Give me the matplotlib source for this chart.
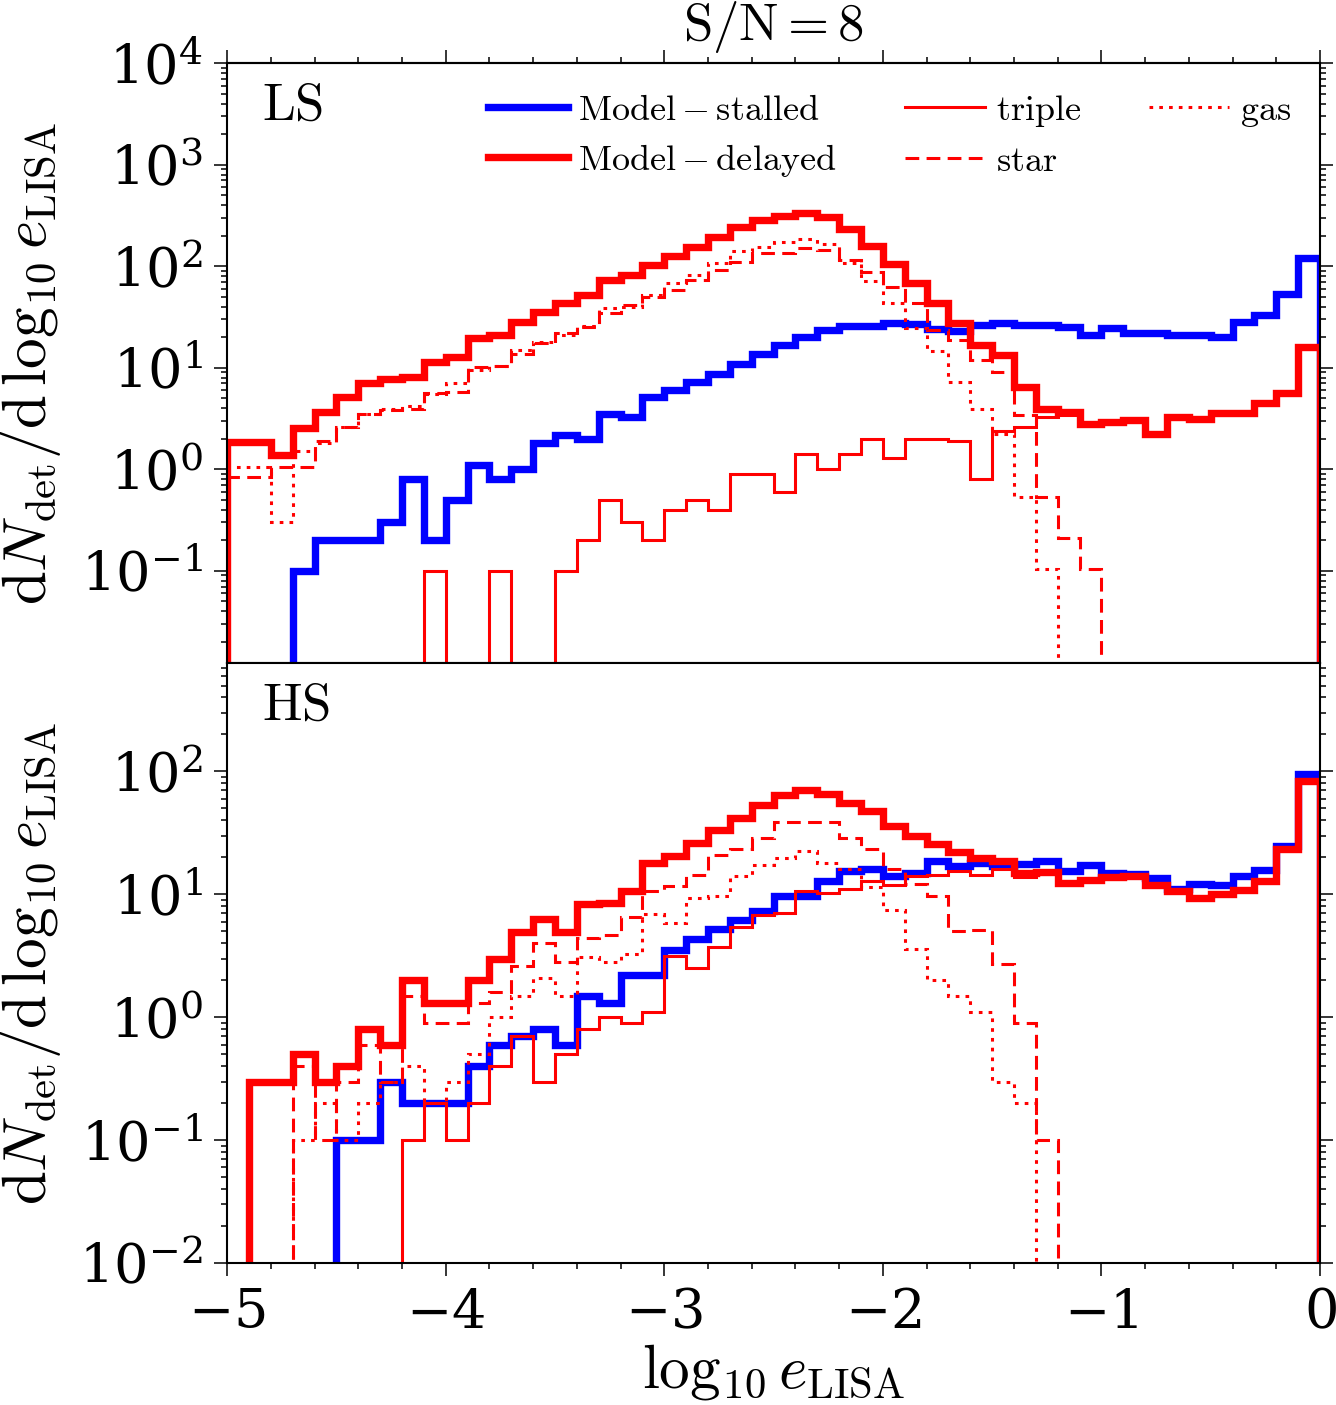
import numpy as np
import matplotlib.pyplot as plt
from matplotlib.lines import Line2D
from matplotlib.ticker import MultipleLocator, LogLocator, NullFormatter

plt.rcParams['mathtext.fontset'] = 'cm'
plt.rcParams['axes.formatter.use_mathtext'] = True
plt.rcParams['font.family'] = ['DejaVu Serif']

# bin edges in log10 e_LISA
edges = np.linspace(-5, 0, 51)

# LS panel (top)
ls_stalled = [0, 0, 0, 0.1, 0.2, 0.2, 0.2, 0.3, 0.8, 0.2,
              0.5, 1.1, 0.8, 1.0, 1.8, 2.2, 2.0, 3.5, 3.3, 5.2,
              6.0, 7.3, 8.7, 11, 13.6, 16.7, 20.2, 23.5, 25.7, 25.7,
              27.3, 27, 23.9, 23, 26.3, 27.7, 26.3, 26.3, 25.4, 21,
              24.8, 21.8, 22, 21, 21, 19.9, 28.4, 33, 53, 120]
ls_delayed = [1.86, 1.86, 1.37, 2.55, 3.67, 5.16, 7.0, 7.7, 8.1, 11.3,
              12.8, 19.5, 21, 28.4, 35.6, 43, 52, 73, 82, 103,
              126, 156, 193, 245, 286, 313, 333, 308, 231, 158,
              105, 69, 43.7, 27.7, 16.7, 13.3, 6.4, 3.9, 3.67, 2.82,
              2.93, 3.04, 2.25, 3.24, 3.15, 3.62, 3.55, 4.5, 5.7, 16.1]
ls_triple = [0, 0, 0, 0, 0, 0, 0, 0, 0, 0.1,
             0, 0, 0.1, 0, 0, 0.1, 0.2, 0.5, 0.3, 0.2,
             0.4, 0.5, 0.4, 0.9, 0.9, 0.6, 1.4, 1.0, 1.4, 2.0,
             1.3, 2.0, 2.0, 1.9, 0.8, 2.4, 2.6, 3.3, 3.45, 2.7,
             2.93, 3.04, 2.25, 3.24, 3.15, 3.62, 3.55, 4.5, 5.7, 16.1]
ls_star = [0.84, 0.84, 1.05, 1.05, 1.9, 2.6, 3.5, 3.8, 3.9, 5.6,
           5.8, 10.2, 10.5, 13.8, 17.5, 21.8, 25.4, 34.3, 41.6, 50,
           58, 73, 92, 110, 134, 136, 150, 145, 115, 88,
           62, 43, 23.5, 18.7, 12, 9.1, 3.4, 0.53, 0.21, 0.105,
           0, 0, 0, 0, 0, 0, 0, 0, 0, 0]
ls_gas = [1.05, 1.05, 0.3, 1.5, 1.8, 2.6, 3.5, 3.9, 4.2, 5.5,
          7.0, 9.5, 10.4, 14.9, 18, 21, 26, 39, 40, 52,
          68, 82, 107, 140, 156, 175, 184, 166, 107, 71,
          43, 24.8, 14.7, 7.3, 3.9, 2.25, 0.53, 0.105, 0, 0,
          0, 0, 0, 0, 0, 0, 0, 0, 0, 0]

# HS panel (bottom)
hs_stalled = [0, 0, 0, 0, 0, 0.1, 0.1, 0.3, 0.2, 0.2,
              0.2, 0.4, 0.6, 0.7, 0.8, 0.6, 1.5, 1.3, 2.2, 2.2,
              3.5, 4.3, 5.2, 6.15, 7.3, 9.7, 9.7, 12.8, 15.4, 16.2,
              14.1, 15.0, 18.6, 17, 18, 17, 17.5, 18.6, 15.4, 17.3,
              15.0, 14.6, 13.5, 11.0, 12.2, 12.0, 14.1, 15.9, 24.6, 95]
hs_delayed = [0, 0.3, 0.3, 0.5, 0.3, 0.4, 0.8, 0.6, 2.0, 1.3,
              1.3, 2.0, 3.0, 4.9, 6.3, 4.9, 8.3, 8.5, 10.6, 18.0,
              20.4, 26.2, 33.6, 41.8, 53, 64.7, 71, 65, 55, 47.3,
              35.8, 29.7, 25.7, 22.1, 19.8, 18.6, 15.0, 15.3, 12.4, 13.2,
              13.8, 14.0, 12.0, 10.6, 9.3, 10.1, 10.8, 12.8, 23.2, 83]
hs_triple = [0, 0, 0, 0, 0, 0, 0, 0, 0.1, 0.2,
             0.1, 0.2, 0.4, 0.7, 0.3, 0.5, 0.8, 1.0, 0.9, 1.1,
             3.15, 2.5, 3.7, 5.4, 6.8, 7.1, 10.6, 10.3, 11.0, 12.8,
             12.0, 14.1, 14.5, 15.6, 14.5, 16, 13.9, 15.2, 12.4, 13.2,
             13.8, 14.0, 12.0, 10.6, 9.3, 10.1, 10.8, 12.8, 23.2, 83]
hs_star = [0, 0, 0, 0.4, 0.1, 0.3, 0.6, 0.3, 1.5, 0.9,
           0.9, 1.3, 1.6, 2.6, 4.0, 2.8, 4.4, 4.7, 6.5, 10.6,
           11.7, 14.5, 21, 23.2, 29, 38.6, 38.6, 38.6, 29, 23.6,
           16, 12.2, 9.7, 5.0, 5.1, 2.7, 0.9, 0.1, 0, 0,
           0, 0, 0, 0, 0, 0, 0, 0, 0, 0]
hs_gas = [0, 0, 0, 0.1, 0.2, 0.1, 0.2, 0.3, 0.4, 0.2,
          0.3, 0.5, 1.0, 1.5, 2.1, 1.5, 3.1, 2.8, 3.3, 6.9,
          5.8, 9.4, 9.7, 14.1, 17.3, 19.8, 22.7, 18, 16, 11.4,
          7.5, 3.6, 2.0, 1.5, 1.1, 0.3, 0.2, 0, 0, 0,
          0, 0, 0, 0, 0, 0, 0, 0, 0, 0]

labels = [r'$\mathrm{Model} - \mathrm{stalled}$', r'$\mathrm{Model} - \mathrm{delayed}$',
          r'$\mathrm{triple}$', r'$\mathrm{star}$', r'$\mathrm{gas}$']

BLUE = '#0000ff'
RED = '#ff0000'
THICK = 5.3
THIN = 2.2
DASHED = (0, (4.5, 2.4))
DOTTED = (0, (1.2, 2.0))

styles = [dict(color=BLUE, lw=THICK, ls='-'),
          dict(color=RED, lw=THICK, ls='-'),
          dict(color=RED, lw=THIN, ls='-'),
          dict(color=RED, lw=THIN, ls=DASHED),
          dict(color=RED, lw=THIN, ls=DOTTED)]

fig, (ax_ls, ax_hs) = plt.subplots(2, 1, figsize=(13.36, 14.05), dpi=100)
fig.subplots_adjust(left=0.170, right=0.988, top=0.955, bottom=0.101, hspace=0)

panels = [(ax_ls, [ls_stalled, ls_delayed, ls_triple, ls_star, ls_gas], 'LS', (0.0123, 1e4)),
          (ax_hs, [hs_stalled, hs_delayed, hs_triple, hs_star, hs_gas], 'HS', (1e-2, 760))]

for ax, series, name, ylim in panels:
    for vals, st in zip(series, styles):
        ax.stairs(vals, edges, baseline=0, fill=False, color=st['color'],
                  linewidth=st['lw'], linestyle=st['ls'], joinstyle='miter')
    ax.set_yscale('log')
    ax.set_xlim(-5, 0)
    ax.set_ylim(*ylim)
    ax.yaxis.set_major_locator(LogLocator(base=10, numticks=20))
    ax.yaxis.set_minor_locator(LogLocator(base=10, subs=np.arange(2, 10), numticks=100))
    ax.yaxis.set_minor_formatter(NullFormatter())
    ax.xaxis.set_major_locator(MultipleLocator(1))
    ax.tick_params(which='both', direction='out', width=1.1, labelsize=39,
                   left=True, right=True, top=False, bottom=True)
    ax.tick_params(which='major', length=9.5, pad=8)
    ax.tick_params(which='minor', length=4.5)
    for sp in ax.spines.values():
        sp.set_linewidth(1.5)
    ax.set_ylabel(r'$\mathrm{d}N_\mathrm{det}/\mathrm{d}\,\log_{10}e_\mathrm{LISA}$', fontsize=44)
    ax.yaxis.set_label_coords(-0.15, 0.5)
    ax.text(0.032, 0.93, r'$\mathrm{%s}$' % name, transform=ax.transAxes,
            fontsize=38, ha='left', va='center')

# top panel: bottom ticks every 0.25, top ticks every 0.2
ax_ls.xaxis.set_minor_locator(MultipleLocator(0.25))
ax_ls.tick_params(labelbottom=False)
sec = ax_ls.secondary_xaxis('top')
sec.xaxis.set_major_locator(MultipleLocator(1))
sec.xaxis.set_minor_locator(MultipleLocator(0.2))
sec.tick_params(which='both', direction='out', width=1.1, labeltop=False)
sec.tick_params(which='major', length=9.5)
sec.tick_params(which='minor', length=4.5)
sec.spines['top'].set_linewidth(1.5)

ax_hs.xaxis.set_minor_locator(MultipleLocator(0.2))
ax_hs.set_xlabel(r'$\log_{10}e_\mathrm{LISA}$', fontsize=44, labelpad=2)

handles = [Line2D([], [], color=st['color'], lw=st['lw'], ls=st['ls']) for st in styles]
ax_ls.legend(handles, labels, loc='upper right', bbox_to_anchor=(1.003, 1.005),
             ncol=3, frameon=False, fontsize=26, handlelength=2.2,
             handletextpad=0.3, columnspacing=1.9, labelspacing=0.42)

fig.text(0.579, 1 - 27 / 1405, r'$\mathrm{S/N} = 8$', fontsize=38, ha='center', va='center')

fig.savefig('out.png', dpi=100)
